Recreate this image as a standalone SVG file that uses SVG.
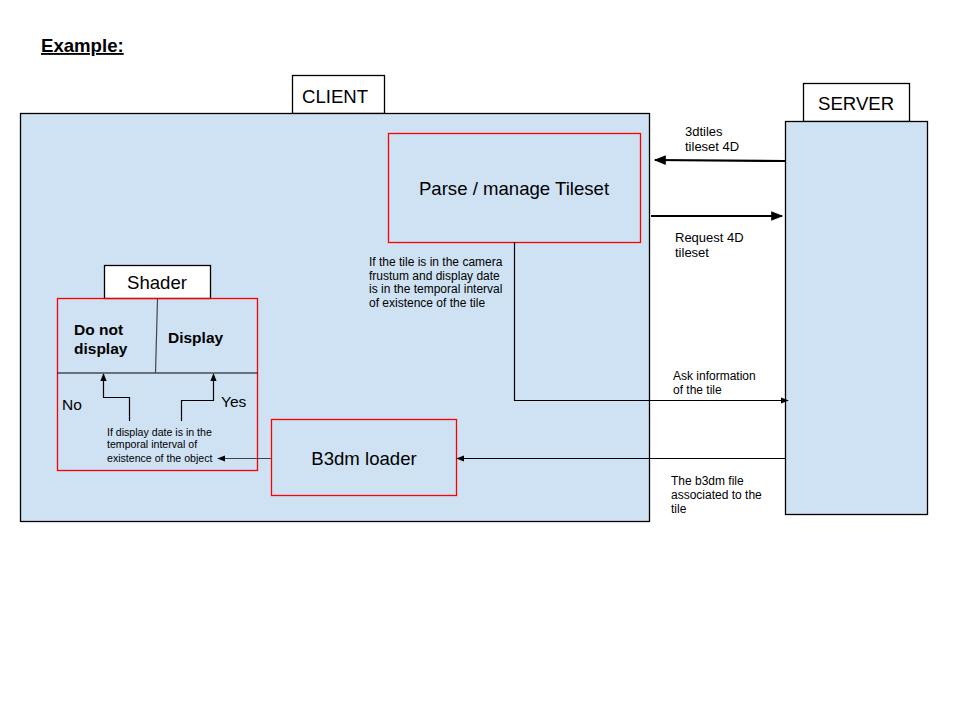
<svg xmlns="http://www.w3.org/2000/svg" width="960" height="720" viewBox="0 0 960 720">
<style>
text{font-family:"Liberation Sans",Arial,sans-serif;fill:#000}
.big{font-size:18.6px}
.mid{font-size:15.5px}
.sm{font-size:12px}
.sm2{font-size:13px}
.xs{font-size:10.6px}
.b{font-weight:bold}
.box{fill:#cfe2f3;stroke:#000;stroke-width:1.3}
.tab{fill:#fff;stroke:#000;stroke-width:1.3}
.red{fill:none;stroke:#f00;stroke-width:1.3}
.ln{fill:none;stroke:#000;stroke-width:1.2}
.thick{fill:none;stroke:#000;stroke-width:2.2}
</style>
<defs>
<marker id="ah" viewBox="0 0 10 10" refX="9" refY="5" markerWidth="8" markerHeight="8" markerUnits="userSpaceOnUse" orient="auto"><path d="M0,1 L10,5 L0,9 Z" fill="#000"/></marker>
<marker id="ahBig" viewBox="0 0 10 10" refX="9" refY="5" markerWidth="14" markerHeight="12" markerUnits="userSpaceOnUse" orient="auto"><path d="M0,1 L10,5 L0,9 Z" fill="#000"/></marker>
</defs>
<rect width="960" height="720" fill="#fff"/>
<text x="41" y="52" class="b" font-size="18.6" text-decoration="underline">Example:</text>

<g id="client">
<rect x="292.5" y="75.5" width="92" height="38" class="tab"/>
<text x="302" y="103" class="big">CLIENT</text>
<rect x="20.5" y="113.5" width="629" height="408" class="box"/>
</g>

<g id="server">
<rect x="803.5" y="83.5" width="106" height="38" class="tab"/>
<text x="818" y="110" class="big">SERVER</text>
<rect x="785.5" y="121.5" width="142" height="393" class="box"/>
</g>

<g id="parse">
<rect x="388.5" y="133.5" width="252" height="109" class="red"/>
<text x="514" y="195" class="big" text-anchor="middle">Parse / manage Tileset</text>
</g>

<g id="b3dm">
<rect x="271.5" y="419.5" width="185" height="76" class="red"/>
<text x="364" y="465" class="big" text-anchor="middle">B3dm loader</text>
</g>

<g id="shader">
<rect x="104.5" y="265.5" width="106" height="33" class="tab"/>
<text x="157" y="289" class="big" text-anchor="middle">Shader</text>
<rect x="57.5" y="298.5" width="200" height="172" class="red"/>
<line x1="57.5" y1="373" x2="257.5" y2="373" stroke="#000" stroke-width="1.2"/>
<line x1="157.5" y1="299" x2="155.5" y2="373" stroke="#444" stroke-width="1.2"/>
<text x="74" y="335" class="mid b">Do not</text>
<text x="74" y="354" class="mid b">display</text>
<text x="168" y="343" class="mid b">Display</text>
<text x="62" y="410" class="mid">No</text>
<text x="221" y="407" class="mid">Yes</text>
<text x="107" y="436" class="xs">If display date is in the</text>
<text x="107" y="448" class="xs">temporal interval of</text>
<text x="107" y="462" class="xs">existence of the object</text>
</g>

<g id="labels">
<text x="369" y="266" class="sm">If the tile is in the camera</text>
<text x="369" y="280" class="sm">frustum and display date</text>
<text x="369" y="293" class="sm">is in the temporal interval</text>
<text x="369" y="307" class="sm">of existence of the tile</text>
<text x="685" y="136" class="sm2">3dtiles</text>
<text x="685" y="151" class="sm2">tileset 4D</text>
<text x="675" y="242" class="sm2">Request 4D</text>
<text x="675" y="257" class="sm2">tileset</text>
<text x="673" y="380" class="sm">Ask information</text>
<text x="673" y="394" class="sm">of the tile</text>
<text x="671" y="485" class="sm">The b3dm file</text>
<text x="671" y="499" class="sm">associated to the</text>
<text x="671" y="513" class="sm">tile</text>
</g>

<g id="connectors">
<line x1="785" y1="161" x2="655" y2="160" class="thick" marker-end="url(#ahBig)"/>
<line x1="651" y1="216" x2="782" y2="216" class="thick" marker-end="url(#ahBig)"/>
<polyline points="514.5,242 514.5,400.5 788,400.5" class="ln" marker-end="url(#ah)"/>
<line x1="785" y1="458.5" x2="457" y2="458.5" class="ln" marker-end="url(#ah)"/>
<line x1="271" y1="458.5" x2="218" y2="458.5" stroke="#444" stroke-width="1.2" marker-end="url(#ah)"/>
<polyline points="129.5,421 129.5,397.5 103.5,397.5 103.5,374" class="ln" marker-end="url(#ah)"/>
<polyline points="181.5,421 181.5,400.5 213.5,400.5 213.5,374" class="ln" marker-end="url(#ah)"/>
</g>
</svg>
